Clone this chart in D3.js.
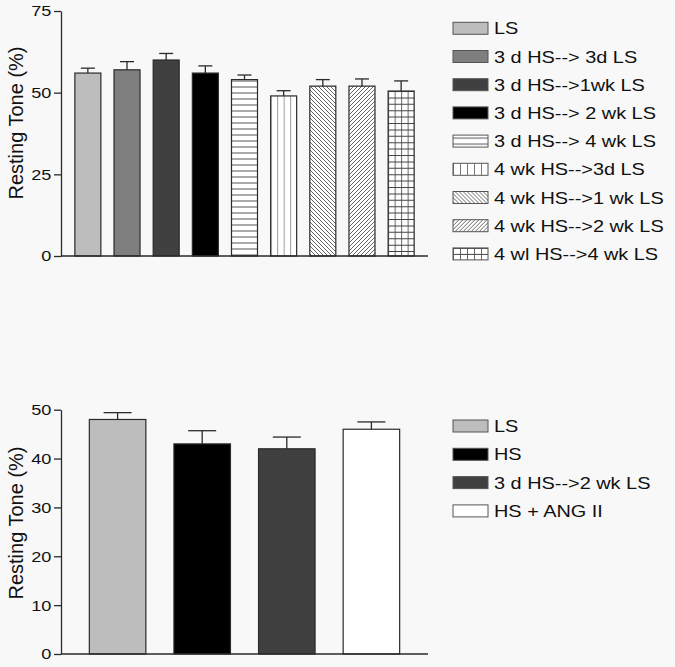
<!DOCTYPE html>
<html>
<head>
<meta charset="utf-8">
<script src="https://cdn.jsdelivr.net/npm/d3@7"></script>
<style>
  html, body { margin: 0; padding: 0; background: #f8f8f8; }
  svg { display: block; font-family: "Liberation Sans", Arial, sans-serif; }
</style>
</head>
<body>
<svg id="chart" width="675" height="667"></svg>
<script>
// ---------- data ----------
const topCategories = [
  "LS", "3 d HS--> 3d LS", "3 d HS-->1wk LS", "3 d HS--> 2 wk LS",
  "3 d HS--> 4 wk LS", "4 wk HS-->3d LS", "4 wk HS-->1 wk LS",
  "4 wk HS-->2 wk LS", "4 wl HS-->4 wk LS"
];
const topValues = [56, 57, 60, 56, 54, 49, 52, 52, 50.5];
const topErrors = [1.5, 2.5, 2.0, 2.2, 1.4, 1.6, 2.0, 2.2, 3.1];
const topTicks = [0, 25, 50, 75];

const bottomCategories = ["LS", "HS", "3 d HS-->2 wk LS", "HS + ANG II"];
const bottomValues = [48, 43, 42, 46];
const bottomErrors = [1.4, 2.7, 2.4, 1.5];
const bottomTicks = [0, 10, 20, 30, 40, 50];

const yLabel = "Resting Tone (%)";

// ---------- styling ----------
const topFills = ["#bdbdbd", "#7f7f7f", "#404040", "#000000",
  "url(#hlines)", "url(#vlines)", "url(#diagBack)", "url(#diagFwd)", "url(#grid)"];
const topLegendFills = ["#bdbdbd", "#7f7f7f", "#404040", "#000000",
  "url(#hlinesL)", "url(#vlinesL)", "url(#diagBack)", "url(#diagFwd)", "url(#gridL)"];
const bottomFills = ["#bdbdbd", "#000000", "#404040", "#ffffff"];
const SX = 1.17; // horizontal text stretch seen in the reference
const ink = "#2a2a2a";

const svg = d3.select("#chart");
svg.append("rect").attr("width", 675).attr("height", 667).attr("fill", "#f8f8f8");

// ---------- patterns ----------
const defs = svg.append("defs");
function hl(id, step, color) {
  const p = defs.append("pattern").attr("id", id).attr("patternUnits", "userSpaceOnUse")
    .attr("width", 8).attr("height", step);
  p.append("rect").attr("width", 8).attr("height", step).attr("fill", "#fff");
  p.append("line").attr("x1", 0).attr("x2", 8).attr("y1", step / 2).attr("y2", step / 2)
    .attr("stroke", color).attr("stroke-width", 1);
}
hl("hlines", 6, "#555");
hl("hlinesL", 6, "#555");
function vl(id, frac, color) {
  const p = defs.append("pattern").attr("id", id).attr("patternUnits", "objectBoundingBox")
    .attr("width", frac).attr("height", 1);
  p.append("rect").attr("width", 100).attr("height", 1000).attr("fill", "#fff");
  p.append("line").attr("x1", 0.5).attr("x2", 0.5).attr("y1", 0).attr("y2", 1000)
    .attr("stroke", color).attr("stroke-width", 1);
}
vl("vlines", 0.25, "#9a9a9a");
vl("vlinesL", 0.2, "#777");
function diag(id, dir) {
  const s = 4;
  const p = defs.append("pattern").attr("id", id).attr("patternUnits", "userSpaceOnUse")
    .attr("width", s).attr("height", s);
  p.append("rect").attr("width", s).attr("height", s).attr("fill", "#fff");
  const d = dir > 0
    ? `M0,${s} L${s},0 M-1,1 L1,-1 M${s - 1},${s + 1} L${s + 1},${s - 1}`
    : `M0,0 L${s},${s} M-1,${s - 1} L1,${s + 1} M${s - 1},-1 L${s + 1},1`;
  p.append("path").attr("d", d).attr("stroke", "#555").attr("stroke-width", 0.9);
}
diag("diagBack", -1);
diag("diagFwd", 1);
function grid(id, frac, step) {
  const p = defs.append("pattern").attr("id", id).attr("patternUnits", "objectBoundingBox")
    .attr("width", frac).attr("height", 1);
  p.append("rect").attr("width", 100).attr("height", 1000).attr("fill", "#fff");
  p.append("line").attr("x1", 0.5).attr("x2", 0.5).attr("y1", 0).attr("y2", 1000)
    .attr("stroke", "#666").attr("stroke-width", 1);
  const ys = d3.range(0, 1000, step);
  p.selectAll("line.h").data(ys).join("line").attr("class", "h")
    .attr("x1", 0).attr("x2", 100).attr("y1", d => d + 0.5).attr("y2", d => d + 0.5)
    .attr("stroke", "#444").attr("stroke-width", 1);
}
grid("grid", 0.25, 6.4);
grid("gridL", 0.2, 6);

// ---------- chart builder ----------
function barChart(cfg) {
  const g = svg.append("g");
  const x = d3.scaleBand().domain(cfg.categories).range([cfg.x0, cfg.x1])
    .paddingInner(cfg.padIn).paddingOuter(cfg.padOut);
  const y = d3.scaleLinear().domain([0, cfg.ymax]).range([cfg.yBottom, cfg.yTop]);

  // bars
  g.selectAll("rect.bar").data(cfg.categories).join("rect").attr("class", "bar")
    .attr("x", d => x(d)).attr("width", x.bandwidth())
    .attr("y", (d, i) => y(cfg.values[i]))
    .attr("height", (d, i) => y(0) - y(cfg.values[i]))
    .attr("fill", (d, i) => cfg.fills[i])
    .attr("stroke", ink).attr("stroke-width", 1.2);

  // error bars (upper only)
  const eb = g.selectAll("g.err").data(cfg.categories).join("g").attr("class", "err");
  eb.append("line")
    .attr("x1", d => x(d) + x.bandwidth() / 2).attr("x2", d => x(d) + x.bandwidth() / 2)
    .attr("y1", (d, i) => y(cfg.values[i])).attr("y2", (d, i) => y(cfg.values[i] + cfg.errors[i]))
    .attr("stroke", ink).attr("stroke-width", 1.3);
  eb.append("line")
    .attr("x1", d => x(d) + x.bandwidth() / 2 - cfg.cap / 2)
    .attr("x2", d => x(d) + x.bandwidth() / 2 + cfg.cap / 2)
    .attr("y1", (d, i) => y(cfg.values[i] + cfg.errors[i]))
    .attr("y2", (d, i) => y(cfg.values[i] + cfg.errors[i]))
    .attr("stroke", ink).attr("stroke-width", 1.3);

  // y axis
  const ya = g.append("g").attr("transform", `translate(${cfg.x0},0)`)
    .call(d3.axisLeft(y).tickValues(cfg.ticks).tickSizeInner(7).tickSizeOuter(0).tickPadding(1.2));
  ya.select(".domain").attr("stroke", ink).attr("stroke-width", 1.3);
  ya.selectAll(".tick line").attr("stroke", ink).attr("stroke-width", 1.3);
  ya.selectAll(".tick text").attr("font-size", 15.5).attr("fill", "#111")
    .attr("font-family", "Liberation Sans, Arial, sans-serif")
    .attr("transform", `scale(${SX},1)`);

  // x axis baseline
  g.append("line").attr("x1", cfg.x0).attr("x2", cfg.x1)
    .attr("y1", y(0)).attr("y2", y(0)).attr("stroke", ink).attr("stroke-width", 1.3);

  // y label
  g.append("text").attr("transform", `translate(${cfg.labelX},${cfg.labelY}) rotate(-90)`)
    .attr("text-anchor", "middle").attr("dominant-baseline", "central")
    .attr("font-size", 20).attr("fill", "#111").text(yLabel);

  // legend
  const lg = g.selectAll("g.leg").data(cfg.categories).join("g").attr("class", "leg")
    .attr("transform", (d, i) => `translate(${cfg.legX},${cfg.legY + i * cfg.legStep})`);
  lg.append("rect").attr("x", 0).attr("y", -6).attr("width", 35).attr("height", 12)
    .attr("fill", (d, i) => cfg.legendFills[i]).attr("stroke", "#555").attr("stroke-width", 1);
  lg.append("text").attr("transform", `translate(41,6) scale(${SX},1)`)
    .attr("font-size", 17).attr("fill", "#111").text(d => d);
}

barChart({
  categories: topCategories, values: topValues, errors: topErrors, ticks: topTicks,
  fills: topFills, legendFills: topLegendFills,
  x0: 61, x1: 428, padIn: 0.336, padOut: 0.354,
  ymax: 75, yTop: 11, yBottom: 256, cap: 14,
  labelX: 16, labelY: 123,
  legX: 453, legY: 28.3, legStep: 28.2
});

barChart({
  categories: bottomCategories, values: bottomValues, errors: bottomErrors, ticks: bottomTicks,
  fills: bottomFills, legendFills: bottomFills,
  x0: 61, x1: 428, padIn: 0.332, padOut: 0.335,
  ymax: 50, yTop: 409.7, yBottom: 654, cap: 28,
  labelX: 16, labelY: 523,
  legX: 453, legY: 426, legStep: 28.3
});
</script>
</body>
</html>
